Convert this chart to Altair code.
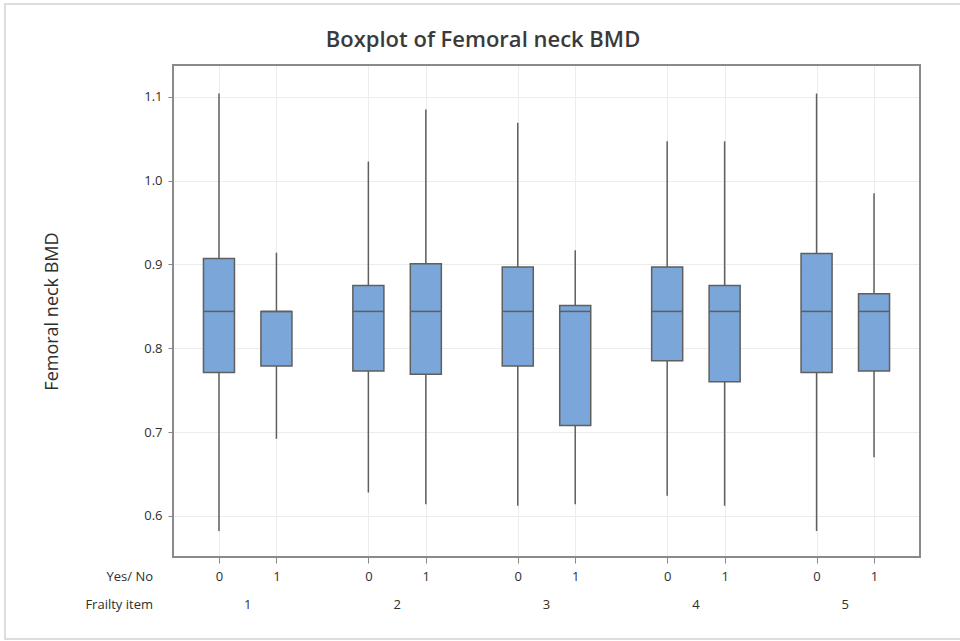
import altair as alt
import pandas as pd

# Data
frailty_item = [1, 1, 2, 2, 3, 3, 4, 4, 5, 5]
yes_no = [0, 1, 0, 1, 0, 1, 0, 1, 0, 1]
whisker_low = [0.582, 0.692, 0.628, 0.614, 0.612, 0.614, 0.624, 0.612, 0.582, 0.670]
q1 = [0.771, 0.779, 0.773, 0.769, 0.779, 0.708, 0.785, 0.760, 0.771, 0.773]
median = [0.844, 0.844, 0.844, 0.844, 0.844, 0.844, 0.844, 0.844, 0.844, 0.844]
q3 = [0.907, 0.844, 0.875, 0.901, 0.897, 0.851, 0.897, 0.875, 0.913, 0.865]
whisker_high = [1.104, 0.914, 1.023, 1.085, 1.069, 0.917, 1.047, 1.047, 1.104, 0.985]
group_labels = ["1", "2", "3", "4", "5"]
y_ticks = [0.6, 0.7, 0.8, 0.9, 1.0, 1.1]
title_text = "Boxplot of Femoral neck BMD"
row_label_yn = "Yes/ No"
row_label_item = "Frailty item"

GROUP_STEP = 2.6
HALF_BOX = 0.27

df = pd.DataFrame({
    "item": frailty_item, "yn": yes_no,
    "lo": whisker_low, "q1": q1, "med": median, "q3": q3, "hi": whisker_high,
})
df["pos"] = (df["item"] - 1) * GROUP_STEP + df["yn"]
df["x0"] = df["pos"] - HALF_BOX
df["x1"] = df["pos"] + HALF_BOX

grp = pd.DataFrame({"label": group_labels})
grp["pos"] = [i * GROUP_STEP + 0.5 for i in range(len(group_labels))]

W, H = 747, 492
FONT = "Open Sans"
GRID = "#ececec"
DARK = "#2e2e2e"

xs = alt.Scale(domain=[-0.8, 4 * GROUP_STEP + 1 + 0.8], nice=False, zero=False)
ys = alt.Scale(domain=[0.551, 1.138], nice=False, zero=False)

tick_vals = df["pos"].tolist()
yn_expr = ("abs(datum.value/2.6 - round(datum.value/2.6)) < 0.02 ? '0' : '1'")

base = alt.Chart(df)

whisk = base.mark_rule(color="#5f5f5f", strokeWidth=1.5).encode(
    x=alt.X("pos:Q", scale=xs,
            axis=alt.Axis(values=tick_vals, grid=True, gridColor=GRID, domain=False,
                          ticks=True, tickColor="#888888", tickSize=6,
                          labelExpr=yn_expr,
                          labelFont=FONT, labelFontSize=13, labelFontWeight=500,
                          labelColor=DARK, labelPadding=7, title=None)),
    y=alt.Y("lo:Q", scale=ys,
            axis=alt.Axis(values=y_ticks, format=".1f", grid=True, gridColor=GRID,
                          domain=False, tickColor="#888888", tickSize=5,
                          labelFont=FONT, labelFontSize=13, labelFontWeight=500,
                          labelColor=DARK, labelPadding=6,
                          title="Femoral neck BMD", titleFont=FONT, titleFontSize=18,
                          titleFontWeight="normal", titleColor=DARK, titlePadding=82)),
    y2="hi:Q",
)

box = base.mark_rect(fill="#7ba6d9", stroke="#5f5f5f", strokeWidth=1.5).encode(
    x=alt.X("x0:Q", scale=xs), x2="x1:Q",
    y=alt.Y("q1:Q", scale=ys), y2="q3:Q",
)

med = base.mark_rule(color="#5f5f5f", strokeWidth=1.5).encode(
    x=alt.X("x0:Q", scale=xs), x2="x1:Q",
    y=alt.Y("med:Q", scale=ys),
)

grp_text = alt.Chart(grp).mark_text(font=FONT, fontSize=13, fontWeight=500, color=DARK,
                                    baseline="middle").encode(
    x=alt.X("pos:Q", scale=xs), y=alt.value(H + 48), text="label:N",
)

one = pd.DataFrame({"a": [0]})

yn_text = alt.Chart(one).mark_text(font=FONT, fontSize=13, fontWeight=500, color=DARK,
                                   align="right", baseline="middle", text=row_label_yn).encode(
    x=alt.value(-20), y=alt.value(H + 20),
)
item_text = alt.Chart(one).mark_text(font=FONT, fontSize=13, fontWeight=500, color=DARK,
                                     align="right", baseline="middle", text=row_label_item).encode(
    x=alt.value(-20), y=alt.value(H + 48),
)
title_mark = alt.Chart(one).mark_text(font=FONT, fontSize=22, fontWeight=600, color="#3a3a3a",
                                      align="center", baseline="middle", text=title_text).encode(
    x=alt.value(310), y=alt.value(-25),
)

outer = alt.Chart(one).mark_rect(
    fill=None, stroke="#dddddd", strokeWidth=2).encode(
    x=alt.value(-168), x2=alt.value(W + 60), y=alt.value(-61), y2=alt.value(H + 82),
)

frame = alt.Chart(one).mark_rect(
    fill=None, stroke="#8a8a8a", strokeWidth=2).encode(
    x=alt.value(0), x2=alt.value(W), y=alt.value(0), y2=alt.value(H),
)

chart = alt.layer(outer, whisk, box, med, frame, grp_text, yn_text, item_text, title_mark).properties(
    width=W, height=H,
    autosize=alt.AutoSizeParams(type="none"),
    padding={"left": 173, "top": 65, "right": 40, "bottom": 84},
).configure_view(stroke=None).configure(background="white")

chart.save("out.html", embed_options={"renderer": "svg", "actions": False})
